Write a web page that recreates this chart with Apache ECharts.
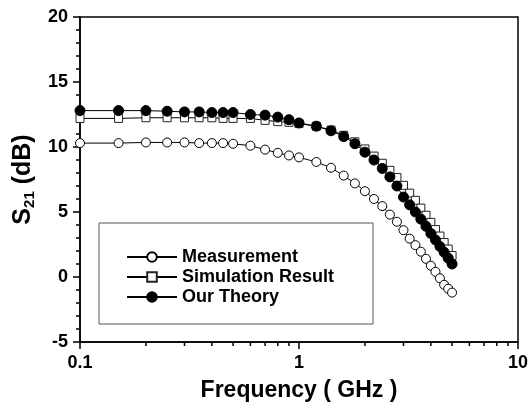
<!DOCTYPE html>
<html>
<head>
<meta charset="utf-8">
<script src="https://cdn.jsdelivr.net/npm/echarts@6/dist/echarts.min.js"></script>
<style>
html, body { margin: 0; padding: 0; background: #fff; }
#chart { width: 529px; height: 404px; }
</style>
</head>
<body>
<div id="chart"></div>
<script>
// frequency points (GHz)
const freq = [0.1, 0.15, 0.2, 0.25, 0.3, 0.35, 0.4, 0.45, 0.5, 0.6, 0.7, 0.8, 0.9, 1.0,
    1.2, 1.4, 1.6, 1.8, 2.0, 2.2, 2.4, 2.6, 2.8, 3.0, 3.2, 3.4, 3.6, 3.8, 4.0, 4.2, 4.4, 4.6, 4.8, 5.0]

// S21 in dB
const measurement = [10.3, 10.3, 10.35, 10.35, 10.35, 10.3, 10.3, 10.3, 10.25, 10.1, 9.8, 9.55, 9.35, 9.2,
    8.85, 8.4, 7.8, 7.2, 6.6, 6.0, 5.45, 4.8, 4.25, 3.6, 2.95, 2.45, 1.95, 1.4, 0.87, 0.4, -0.1, -0.6, -0.9, -1.2]
const simulation = [12.2, 12.2, 12.25, 12.25, 12.25, 12.25, 12.25, 12.2, 12.2, 12.2, 12.05, 11.95, 11.9, 11.8,
    11.6, 11.3, 10.9, 10.4, 9.85, 9.3, 8.75, 8.2, 7.65, 7.05, 6.45, 5.9, 5.3, 4.75, 4.2, 3.65, 3.15, 2.65, 2.15, 1.65]
const theory = [12.8, 12.8, 12.8, 12.75, 12.7, 12.7, 12.65, 12.65, 12.65, 12.5, 12.45, 12.3, 12.1, 11.85,
    11.6, 11.25, 10.8, 10.25, 9.6, 9.0, 8.35, 7.7, 7.0, 6.15, 5.55, 5.0, 4.45, 3.9, 3.35, 2.85, 2.35, 1.9, 1.45, 1.0]

// log minor tick positions on the x axis
const minorTicks = [0.2, 0.3, 0.4, 0.5, 0.6, 0.7, 0.8, 0.9, 2, 3, 4, 5, 6, 7, 8, 9]

const names = ['Measurement', 'Simulation Result', 'Our Theory']
const font = 'Liberation Sans, Arial, sans-serif'

const pairs = (ys) => freq.map((f, i) => [f, ys[i]])

const option = {
    animation: false,
    backgroundColor: '#fff',
    grid: {
        left: 80,
        right: 11,
        top: 17,
        bottom: 62,
        outerBoundsMode: 'none',
        show: true,
        borderColor: '#000',
        borderWidth: 1.5
    },
    legend: {
        data: names,
        orient: 'vertical',
        left: 99,
        top: 223,
        padding: [24, 39, 17, 27],
        itemGap: 0,
        itemWidth: 50,
        itemHeight: 12,
        borderColor: '#555',
        borderWidth: 1,
        selectedMode: false,
        textStyle: {
            fontFamily: font,
            fontWeight: 'bold',
            fontSize: 18,
            lineHeight: 20,
            color: '#000'
        }
    },
    xAxis: {
        type: 'log',
        logBase: 10,
        min: 0.1,
        max: 10,
        name: 'Frequency ( GHz )',
        nameLocation: 'middle',
        nameGap: 37,
        nameTextStyle: {
            fontFamily: font,
            fontWeight: 'bold',
            fontSize: 23,
            color: '#000'
        },
        axisLine: { onZero: false, lineStyle: { color: '#000', width: 1.5 } },
        axisTick: { inside: false, length: 7, lineStyle: { color: '#000', width: 1.5 } },
        splitLine: { show: false },
        axisLabel: {
            margin: 12,
            fontFamily: font,
            fontWeight: 'bold',
            fontSize: 18,
            color: '#000',
            formatter: v => String(+v.toPrecision(3))
        }
    },
    yAxis: {
        type: 'value',
        min: -5,
        max: 20,
        interval: 5,
        name: '{a|S}{b|21}{a| (dB)}',
        nameLocation: 'middle',
        nameGap: 30,
        nameTextStyle: {
            rich: {
                a: { fontFamily: font, fontWeight: 'bold', fontSize: 25, lineHeight: 28, color: '#000' },
                b: { fontFamily: font, fontWeight: 'bold', fontSize: 15, lineHeight: 15, verticalAlign: 'bottom', color: '#000' }
            }
        },
        axisLine: { lineStyle: { color: '#000', width: 1.5 } },
        axisTick: { inside: false, length: 7, lineStyle: { color: '#000', width: 1.5 } },
        minorTick: { show: true, splitNumber: 5, length: 4, lineStyle: { color: '#000', width: 1.5 } },
        splitLine: { show: false },
        axisLabel: {
            margin: 12,
            fontFamily: font,
            fontWeight: 'bold',
            fontSize: 18,
            color: '#000'
        }
    },
    series: [
        {
            name: names[0],
            type: 'line',
            data: pairs(measurement),
            symbol: 'circle',
            symbolSize: 9,
            lineStyle: { color: '#000', width: 1 },
            itemStyle: { color: '#fff', borderColor: '#000', borderWidth: 1 }
        },
        {
            name: names[1],
            type: 'line',
            data: pairs(simulation),
            symbol: 'rect',
            symbolSize: 8,
            lineStyle: { color: '#000', width: 1 },
            itemStyle: { color: '#fff', borderColor: '#222', borderWidth: 1 }
        },
        {
            name: names[2],
            type: 'line',
            data: pairs(theory),
            symbol: 'circle',
            symbolSize: 10,
            lineStyle: { color: '#000', width: 1 },
            itemStyle: { color: '#000', borderColor: '#000', borderWidth: 1 }
        },
        {
            name: 'minor',
            type: 'custom',
            silent: true,
            clip: false,
            data: minorTicks.map(v => [v, -5]),
            renderItem: (params, api) => {
                const p = api.coord([api.value(0), api.value(1)])
                return {
                    type: 'line',
                    shape: { x1: p[0], y1: p[1], x2: p[0], y2: p[1] + 4 },
                    style: { stroke: '#000', lineWidth: 1.5 }
                }
            }
        }
    ]
}

const myChart = echarts.init(document.getElementById('chart'))
myChart.setOption(option)
</script>
</body>
</html>
